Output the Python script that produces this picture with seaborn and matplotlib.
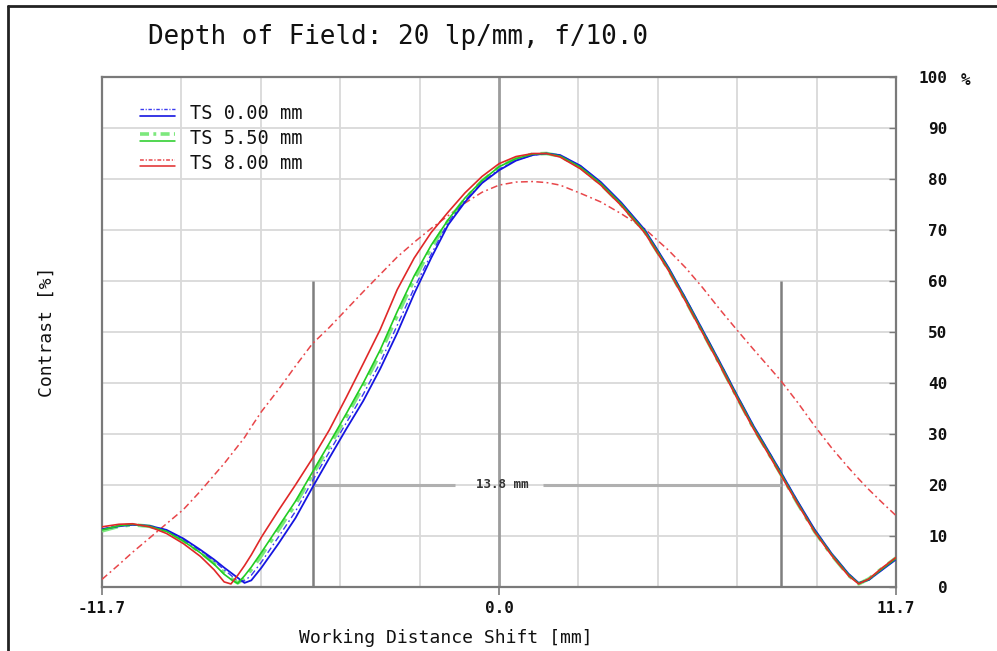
import numpy as np
import pandas as pd
import seaborn as sns
import matplotlib
matplotlib.use("Agg")
import matplotlib.pyplot as plt
from matplotlib.lines import Line2D
from matplotlib.legend_handler import HandlerBase

# ---------------- data ----------------
shift_mm = [-11.7, -11.2, -10.8, -10.3, -9.8, -9.3, -8.8, -8.4, -8.1, -7.9, -7.7, -7.5,
            -7.3, -7.0, -6.5, -6.0, -5.5, -5.0, -4.5, -4.0, -3.5, -3.0, -2.5, -2.0,
            -1.5, -1.0, -0.5, 0.0, 0.5, 1.0, 1.4, 1.8, 2.4, 3.0, 3.6, 4.3, 5.0, 5.5,
            6.0, 6.5, 7.0, 7.5, 8.0, 8.3, 8.8, 9.3, 9.8, 10.3, 10.6, 10.9, 11.3, 11.7]

ts0_solid = [11.3, 11.9, 12.2, 12.0, 11.2, 9.5, 7.3, 5.4, 3.8, 2.8, 1.8, 0.8,
             1.3, 3.8, 8.5, 13.5, 19.5, 25.3, 31.0, 36.5, 42.8, 49.8, 57.5, 64.5,
             71.0, 75.5, 79.2, 81.7, 83.6, 84.7, 85.0, 84.7, 82.6, 79.4, 75.4, 70.0, 62.6, 56.6,
             50.4, 44.2, 37.8, 31.6, 26.0, 22.6, 16.8, 11.3, 6.6, 2.6, 0.8, 1.4, 3.4, 5.4]
ts0_dashdot = [11.4, 12.0, 12.2, 12.0, 11.1, 9.3, 7.1, 5.1, 3.4, 2.3, 1.2, 1.2,
               2.3, 4.9, 9.8, 14.8, 20.8, 26.5, 32.2, 37.8, 44.0, 51.3, 58.6, 65.2,
               71.5, 75.8, 79.3, 81.9, 83.7, 84.7, 85.0, 84.6, 82.5, 79.3, 75.3, 69.9, 62.5, 56.5,
               50.3, 44.1, 37.7, 31.5, 25.9, 22.5, 16.7, 11.2, 6.5, 2.5, 0.7, 1.4, 3.5, 5.5]
ts5_solid = [11.2, 12.0, 12.3, 11.9, 10.9, 9.0, 6.7, 4.5, 2.5, 1.5, 0.7, 2.2,
             3.9, 6.8, 11.8, 16.8, 22.5, 28.2, 34.0, 40.0, 46.5, 54.0, 61.0, 67.0,
             72.0, 76.3, 79.7, 82.4, 84.0, 84.9, 85.0, 84.5, 82.3, 79.1, 75.1, 69.7, 62.3, 56.3,
             50.1, 43.9, 37.5, 31.3, 25.7, 22.3, 16.5, 11.0, 6.4, 2.4, 0.7, 1.5, 3.6, 5.6]
ts5_dashdot = [11.0, 11.9, 12.2, 11.9, 10.9, 9.1, 6.8, 4.7, 2.8, 1.7, 0.8, 1.7,
               3.4, 6.2, 11.2, 16.2, 22.0, 27.6, 33.4, 39.4, 45.8, 53.2, 60.3, 66.5,
               71.8, 76.1, 79.6, 82.3, 84.0, 84.9, 85.0, 84.5, 82.3, 79.0, 75.0, 69.6, 62.2, 56.2,
               50.0, 43.8, 37.4, 31.2, 25.6, 22.2, 16.4, 10.9, 6.3, 2.3, 0.6, 1.6, 3.7, 5.7]
ts8_solid = [11.8, 12.3, 12.4, 11.8, 10.5, 8.5, 6.0, 3.4, 1.0, 0.6, 2.3, 4.2,
             6.3, 9.8, 15.0, 20.0, 25.2, 30.8, 37.2, 43.8, 50.5, 58.3, 64.5, 69.5,
             73.5, 77.3, 80.5, 83.0, 84.4, 85.0, 85.0, 84.3, 82.0, 78.8, 74.8, 69.4, 62.0, 56.0,
             49.8, 43.6, 37.2, 31.0, 25.4, 22.0, 16.3, 10.8, 6.2, 2.2, 0.6, 1.6, 3.8, 5.8]
ts8_dashdot = [1.5, 4.4, 6.8, 9.6, 12.4, 15.2, 18.8, 21.9, 24.2, 25.9, 27.6, 29.3,
               31.4, 34.4, 38.7, 43.3, 47.7, 50.9, 54.4, 57.9, 61.3, 64.7, 67.6, 70.3,
               72.8, 75.3, 77.4, 78.8, 79.4, 79.5, 79.3, 78.8, 77.2, 75.5, 73.2, 70.2, 66.0, 62.6,
               58.7, 54.5, 50.5, 46.6, 42.8, 40.5, 36.2, 31.6, 27.3, 23.4, 21.2, 19.1, 16.5, 14.0]

series_labels = ["TS 0.00 mm", "TS 5.50 mm", "TS 8.00 mm"]
x_tick_values = [-11.7, 0.0, 11.7]
x_tick_labels = ["-11.7", "0.0", "11.7"]
y_tick_values = [0, 10, 20, 30, 40, 50, 60, 70, 80, 90, 100]
dof_limits = [-5.48, 8.31]
dof_threshold = 20
dof_marker_height = 60
dof_label_gap = [-1.3, 1.3]

# ---------------- styling ----------------
sns.set_theme(style="white")
mono = ["DejaVu Sans Mono", "DejaVu Sans"]
plt.rcParams["font.family"] = mono

fig = plt.figure(figsize=(9.97, 6.51), dpi=100)
ax = fig.add_axes([102 / 997, 1 - 587 / 651, 794 / 997, 510 / 651])

# grid
grid_x = [-11.7 + 2.34 * k for k in range(1, 10) if k != 5]
for gx in grid_x:
    ax.axvline(gx, color="#d9d9d9", lw=1.3, zorder=0)
for gy in y_tick_values[1:-1]:
    ax.axhline(gy, color="#d9d9d9", lw=1.3, zorder=0)
ax.axvline(0, color="#9c9c9c", lw=2.0, zorder=0.5)

# depth-of-field markers
ax.vlines(dof_limits, 0, dof_marker_height, color="#7f7f7f", lw=1.8, zorder=1)
ax.hlines([dof_threshold, dof_threshold], [dof_limits[0], dof_label_gap[1]],
          [dof_label_gap[0], dof_limits[1]], color="#b0b0b0", lw=2.2, zorder=1)
ax.text(0.1, dof_threshold, f"{dof_limits[1] - dof_limits[0]:.1f} mm", ha="center",
        va="center", fontsize=9, fontweight="bold", color="#333333", zorder=6)

# curves
df = pd.DataFrame({"shift": shift_mm,
                   "ts0_s": ts0_solid, "ts0_d": ts0_dashdot,
                   "ts5_s": ts5_solid, "ts5_d": ts5_dashdot,
                   "ts8_s": ts8_solid, "ts8_d": ts8_dashdot})
dashdot = (4.5, 2.2, 1.2, 2.2)
styles = [
    ("ts8_d", "#e8464a", 1.1, dashdot),
    ("ts5_d", "#7de87d", 2.6, dashdot),
    ("ts0_d", "#3a3af0", 1.0, dashdot),
    ("ts0_s", "#1515e0", 1.3, None),
    ("ts5_s", "#22cc22", 1.2, None),
    ("ts8_s", "#e02828", 1.2, None),
]
for col, color, lw, dash in styles:
    sns.lineplot(data=df, x="shift", y=col, ax=ax, color=color, lw=lw,
                 estimator=None, sort=False, legend=False, zorder=3)
    if dash is not None:
        ax.lines[-1].set_dashes(dash)

ax.set_xlim(-11.7, 11.7)
ax.set_ylim(0, 100)

# axes frame
for sp in ax.spines.values():
    sp.set_color("#7a7a7a")
    sp.set_linewidth(1.6)
    sp.set_visible(True)

ax.set_xticks(x_tick_values)
ax.set_xticklabels(x_tick_labels)
ax.tick_params(axis="x", bottom=True, direction="out", length=6, width=1.2,
               color="#7a7a7a", pad=4, labelsize=11.5, labelcolor="#111111")
ax.yaxis.tick_right()
ax.set_yticks(y_tick_values)
ax.set_yticklabels([str(v) for v in y_tick_values])
ax.tick_params(axis="y", right=True, left=False, direction="in", length=5, width=1.0,
               color="#7a7a7a", pad=37, labelsize=11.5, labelcolor="#111111")
for lab in ax.get_yticklabels():
    lab.set_horizontalalignment("right")
    lab.set_fontweight("bold")
for lab in ax.get_xticklabels():
    lab.set_fontweight("bold")
ax.annotate("%", xy=(1, 100), xycoords=("axes fraction", "data"), xytext=(50, -1.5),
            textcoords="offset points", ha="center", va="center_baseline", fontsize=11.5,
            fontweight="bold", color="#111111")

ax.set_xlabel("Working Distance Shift [mm]", fontsize=13, color="#111111")
ax.xaxis.set_label_coords(0.433, -0.083)
ax.set_ylabel("Contrast [%]", fontsize=13, color="#111111")
ax.yaxis.set_label_position("left")
ax.yaxis.set_label_coords(-0.058, 0.5)

fig.text(148 / 997, 1 - 37 / 651, "Depth of Field: 20 lp/mm, f/10.0", ha="left",
         va="center", fontsize=18.7, color="#111111")


# legend with paired (dash-dot over solid) samples
class PairHandler(HandlerBase):
    def create_artists(self, legend, orig_handle, xdescent, ydescent, width, height,
                       fontsize, trans):
        top, bottom = orig_handle
        arts = []
        for h, fy in ((top, 0.72), (bottom, 0.28)):
            y = fy * height - ydescent
            ln = Line2D([-xdescent, -xdescent + width], [y, y])
            ln.update_from(h)
            ln.set_transform(trans)
            arts.append(ln)
        return arts


leg_handles = []
for (cs, cd) in [(("#1515e0", 1.2), ("#3a3af0", 1.0)), (("#22cc22", 1.1), ("#7de87d", 2.6)),
                 (("#e02828", 1.1), ("#e8464a", 1.1))]:
    dl = Line2D([], [], color=cd[0], lw=cd[1], dashes=(2.5, 1.2, 0.8, 1.2))
    sl = Line2D([], [], color=cs[0], lw=cs[1])
    leg_handles.append((dl, sl))
leg = ax.legend(leg_handles, series_labels, handler_map={tuple: PairHandler()},
                loc="upper left", bbox_to_anchor=(0.027, 0.98), frameon=False,
                fontsize=13.4, handlelength=1.85, handleheight=0.8, handletextpad=0.85,
                labelspacing=0.33)
for t in leg.get_texts():
    t.set_color("#111111")

# outer frame of the picture
fig.add_artist(Line2D([8 / 997, 8 / 997], [0, 1 - 6 / 651], transform=fig.transFigure,
                      color="#222222", lw=2))
fig.add_artist(Line2D([8 / 997, 1], [1 - 6 / 651, 1 - 6 / 651], transform=fig.transFigure,
                      color="#222222", lw=2))

fig.savefig("out.png", dpi=100)
